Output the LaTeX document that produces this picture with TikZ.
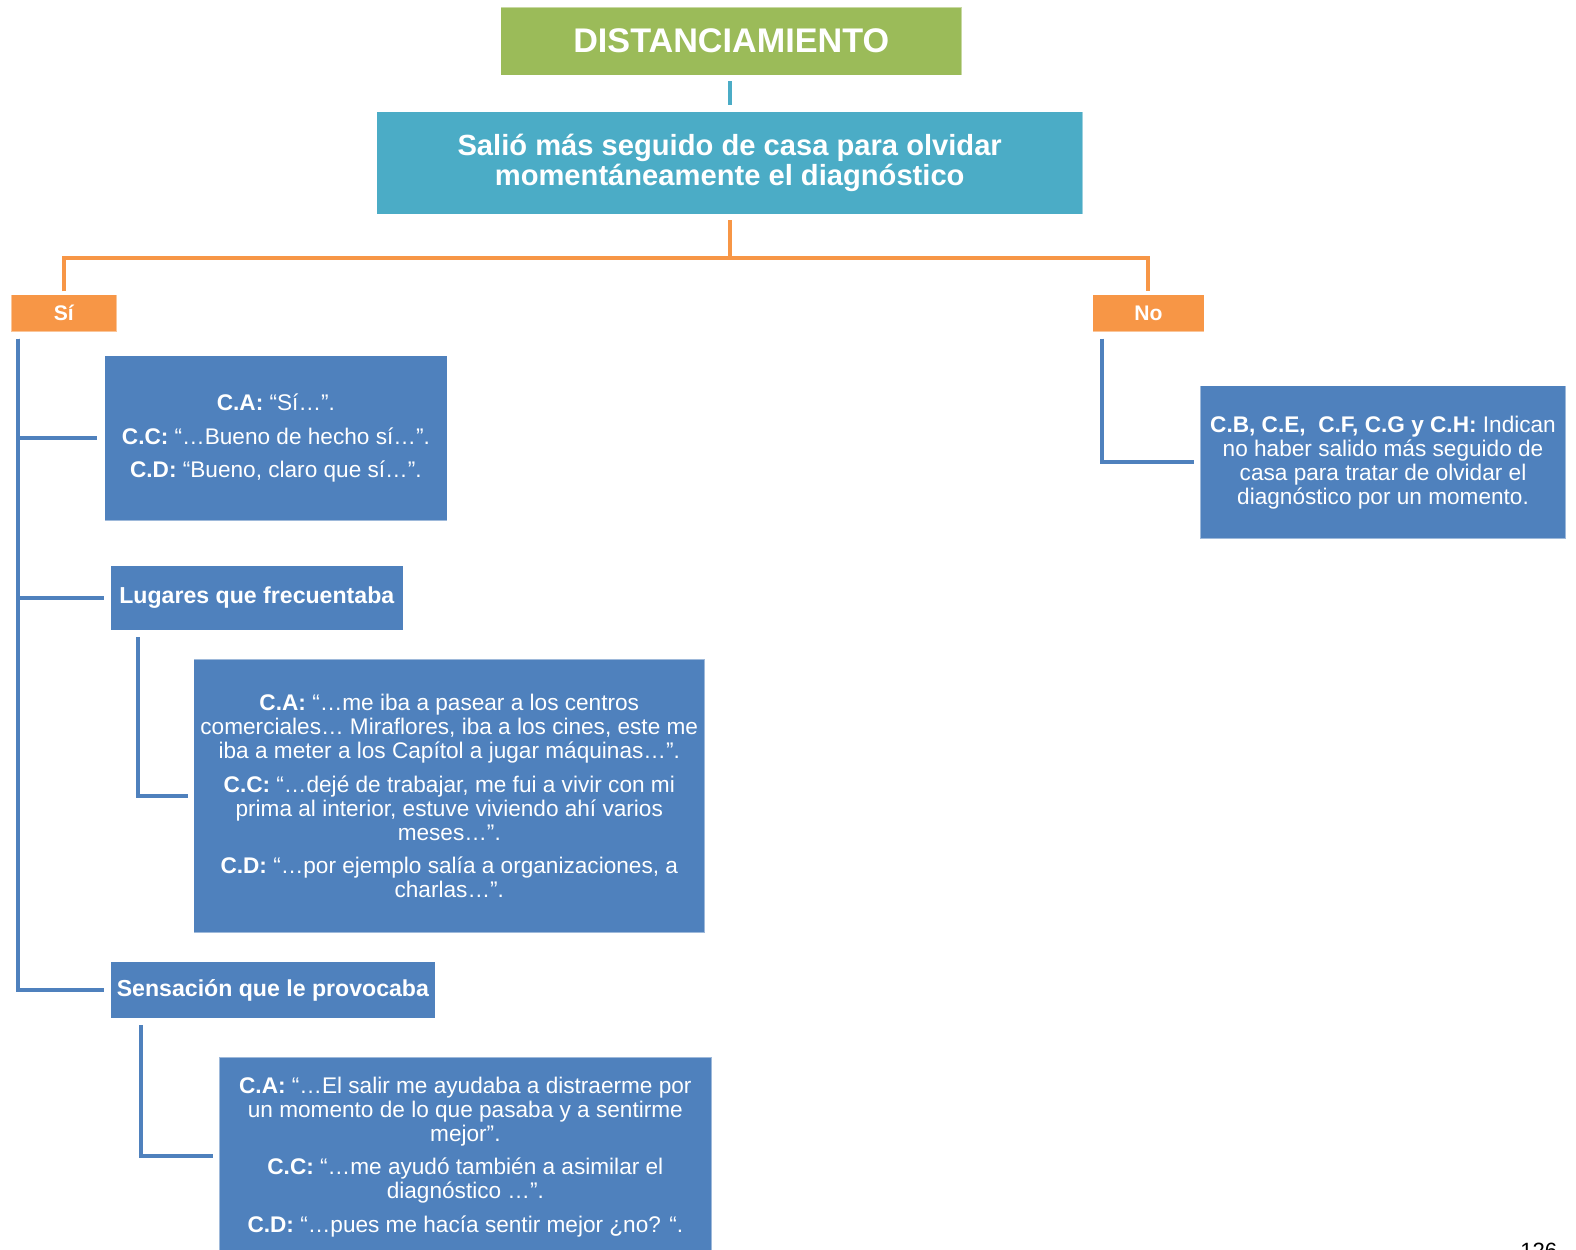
\documentclass[tikz,border=0pt]{standalone}
\usepackage{fontspec}
\setmainfont{Liberation Sans}
\definecolor{cgreen}{HTML}{9BBB59}
\definecolor{cteal}{HTML}{4BACC6}
\definecolor{corange}{HTML}{F79646}
\definecolor{cblue}{HTML}{4F81BD}
\tikzset{
  box/.style={rectangle, inner sep=0pt, outer sep=0pt, text=white, align=center,
    draw=white, draw opacity=0.45, line width=1pt},
  bluebox/.style={box, fill=cblue},
  bline/.style={draw=cblue, line width=4pt, line cap=butt, line join=miter},
  oline/.style={draw=corange, line width=4pt, line cap=butt, line join=miter},
  tline/.style={draw=cteal, line width=4pt},
  txt/.style={font=\fontsize{22.5}{24}\selectfont},
  hdr/.style={font=\bfseries\fontsize{23}{26}\selectfont},
}
\begin{document}
\begin{tikzpicture}[x=1pt,y=-1pt]
\clip (0,0) rectangle (1568,1243);
\fill[white] (0,0) rectangle (1568,1243);

% title and main question
\node[box, fill=cgreen, minimum width=459pt, minimum height=68pt,
      font=\bfseries\fontsize{34}{38}\selectfont] (title) at (727.5,41) {DISTANCIAMIENTO};
\node[box, fill=cteal, minimum width=702pt, minimum height=102pt,
      font=\bfseries\fontsize{29}{30}\selectfont] (main) at (726,162)
  {Salió más seguido de casa para olvidar\\momentáneamente el diagnóstico};

% Si / No
\node[box, fill=corange, minimum width=105pt, minimum height=37pt,
      font=\bfseries\fontsize{21}{24}\selectfont] (si) at (63.5,311.5) {Sí};
\node[box, fill=corange, minimum width=111pt, minimum height=37pt,
      font=\bfseries\fontsize{21}{24}\selectfont] (no) at (1142.5,311.5) {No};

% Si branch boxes
\node[bluebox, minimum width=341pt, minimum height=164pt,
      font=\fontsize{22.5}{33.5}\selectfont] (b1) at (274.5,436)
  {\textbf{C.A:} “Sí…”.\\\textbf{C.C:} “…Bueno de hecho sí…”.\\\textbf{C.D:} “Bueno, claro que sí…”.};
\node[bluebox, hdr, minimum width=291pt, minimum height=64pt] (lug) at (255.5,595)
  {Lugares que frecuentaba};
\node[bluebox, txt, minimum width=508pt, minimum height=272pt] (b3) at (447,792)
  {\textbf{C.A:} “…me iba a pasear a los centros\\
   comerciales… Miraflores, iba a los cines, este me\\
   iba a meter a los Capítol a jugar máquinas…”.\\[9pt]
   \textbf{C.C:} “…dejé de trabajar, me fui a vivir con mi\\
   prima al interior, estuve viviendo ahí varios\\
   meses…”.\\[9pt]
   \textbf{C.D:} “…por ejemplo salía a organizaciones, a\\
   charlas…”.};
\node[bluebox, hdr, minimum width=323pt, minimum height=56pt] (sen) at (271.5,985)
  {Sensación que le provocaba};
\node[bluebox, anchor=north, minimum width=490pt, minimum height=240pt] (b5) at (463,1052) {};
\node[txt, text=white, align=center, inner sep=0pt] (b5t) at (463,1151)
  {\textbf{C.A:} “…El salir me ayudaba a distraerme por\\
   un momento de lo que pasaba y a sentirme\\
   mejor”.\\[9pt]
   \textbf{C.C:} “…me ayudó también a asimilar el\\
   diagnóstico …”.\\[9pt]
   \textbf{C.D:} “…pues me hacía sentir mejor ¿no? “.};

% No branch box
\node[bluebox, txt, minimum width=364pt, minimum height=152pt] (nob) at (1376,460)
  {\textbf{C.B, C.E,\ \ C.F, C.G y C.H:} Indican\\
   no haber salido más seguido de\\
   casa para tratar de olvidar el\\
   diagnóstico por un momento.};

% connectors
\coordinate (tb) at (title.south -| main.north);
\draw[tline] ([yshift=-6pt]tb) -- ([yshift=7pt]main.north);
\coordinate (hub) at ([yshift=-44pt]main.south);
\draw[oline] ([yshift=-6pt]main.south) -- (hub);
\draw[oline] ([yshift=3pt]si.north) |- (hub) -| ([yshift=3pt]no.north);

\coordinate (sitop) at ([xshift=7pt,yshift=-7pt]si.south west);
\draw[bline] (sitop) |- ([xshift=-7pt]sen.west);
\draw[bline] (sitop) |- ([xshift=-7pt]b1.west);
\draw[bline] (sitop) |- ([xshift=-7pt]lug.west);

\draw[bline] ([xshift=27pt,yshift=-7pt]lug.south west) |- ([xshift=-6pt]b3.west);
\draw[bline] ([xshift=30pt,yshift=-7pt]sen.south west) |- ([xshift=-6pt,yshift=-98pt]b5.north west);
\draw[bline] ([xshift=9pt,yshift=-7pt]no.south west) |- ([xshift=-6pt]nob.west);

% page number (cut at the bottom edge, as in the source page)
\node[anchor=north, inner sep=0pt, font=\fontsize{22}{24}\selectfont] (page) at (1531,1237) {126};
\end{tikzpicture}
\end{document}
